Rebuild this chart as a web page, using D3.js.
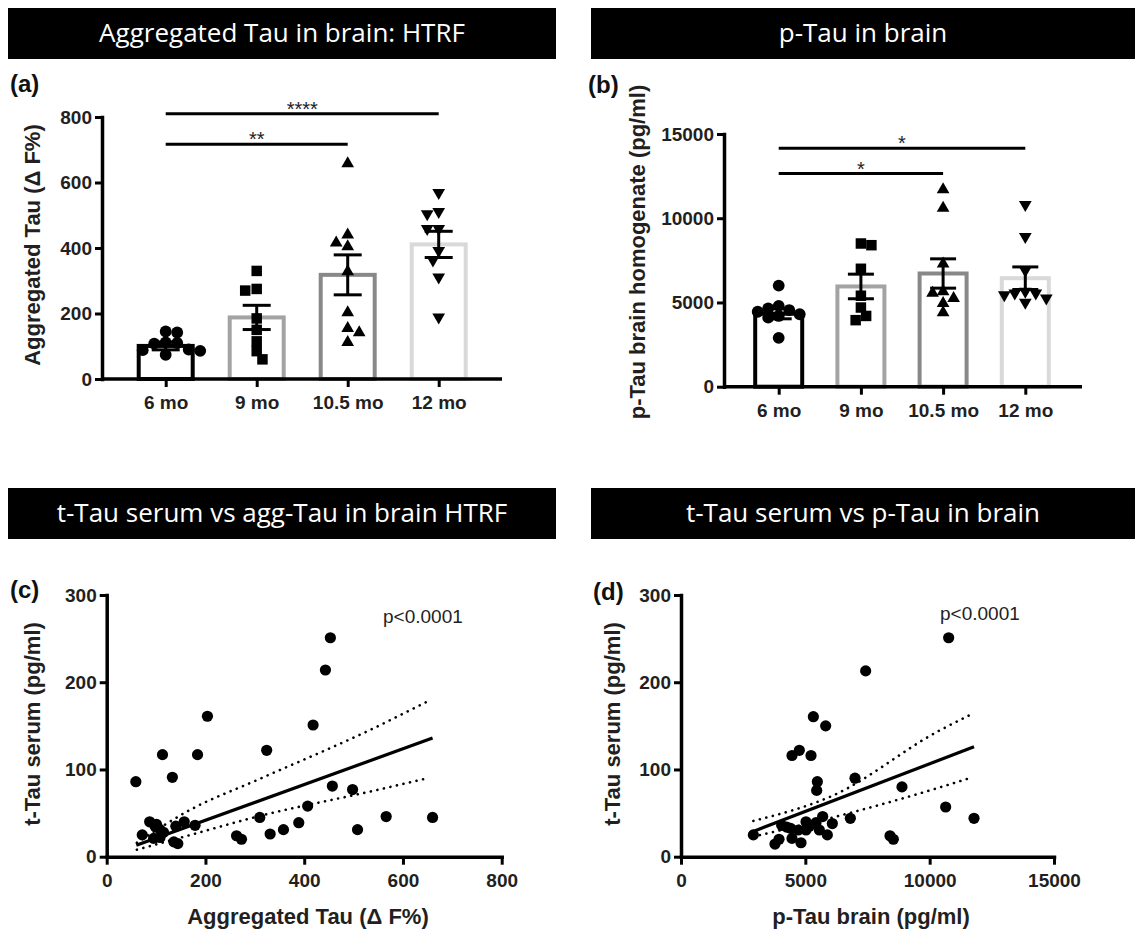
<!DOCTYPE html>
<html>
<head>
<meta charset="utf-8">
<script src="https://cdn.jsdelivr.net/npm/d3@7"></script>
<style>
  body { margin: 0; background: #fff; }
  svg text { font-family: "Liberation Sans", Arial, sans-serif; }
</style>
</head>
<body>
<svg id="fig" width="1135" height="931"></svg>
<script>
// ---- data ----
const months = ["6 mo", "9 mo", "10.5 mo", "12 mo"];

// (a) aggregated tau, HTRF
const aggTicks = [0, 200, 400, 600, 800];
const aggMean = [101, 188, 318, 411];
const aggSem = [12, 37, 61, 40];
const agg6mo = [145, 142, 112, 110, 108, 90, 88, 86, 74];
const agg9mo = [330, 275, 270, 185, 150, 115, 85, 60];
const agg105mo = [658, 440, 416, 404, 328, 203, 155, 142, 112];
const agg12mo = [569, 511, 504, 459, 459, 392, 363, 311, 189];
const aggSigFrom = [0, 0];
const aggSigTo = [2, 3];
const aggSigLevel = [717, 810];
const aggSigLabel = ["**", "****"];

// (b) p-tau in brain homogenate
const pTauTicks = [0, 5000, 10000, 15000];
const pTauMean = [4330, 5950, 6720, 6440];
const pTauSem = [300, 730, 870, 670];
const pTau6mo = [6000, 4800, 4650, 4550, 4450, 4300, 4200, 4100, 2900];
const pTau9mo = [8500, 8400, 7000, 5400, 4700, 4200, 3950];
const pTau105mo = [11700, 10600, 7300, 5650, 5550, 5250, 4950, 4400];
const pTau12mo = [10800, 8900, 6900, 5650, 5550, 5550, 5450, 5250, 5000];
const pTauSigFrom = [0, 0];
const pTauSigTo = [2, 3];
const pTauSigLevel = [12650, 14150];
const pTauSigLabel = ["*", "*"];

// (c) t-tau serum vs aggregated tau
const serumTicks = [0, 100, 200, 300];
const aggXTicks = [0, 200, 400, 600, 800];
const aggX = [59, 72, 87, 95, 98, 101, 108, 108, 113, 115, 133, 136, 140, 144, 157, 179, 184, 204, 263, 273,
              310, 324, 331, 358, 389, 407, 418, 443, 453, 457, 498, 508, 566, 660];
const serumC = [86, 25, 40, 21, 35, 37, 31, 22, 117, 28, 91, 17, 35, 15, 40, 36, 117, 161, 24, 20,
                45, 122, 26, 31, 39, 58, 151, 214, 251, 81, 77, 31, 46, 45];
const fitCX = [60, 660];
const fitCY = [13, 136];
const ciCX = [61, 170, 305, 536, 650];
const ciCUpper = [16, 54, 88, 146, 178];
const ciCLower = [8, 25, 46, 75, 90];

// (d) t-tau serum vs p-tau brain
const pBrainXTicks = [0, 5000, 10000, 15000];
const pBrainX = [2909, 3780, 3941, 4048, 4249, 4410, 4464, 4464, 4759, 4718, 4826, 5027, 5027, 5161, 5322, 5228,
                 5483, 5456, 5429, 5563, 5697, 5818, 5885, 6086, 6810, 6997, 7426, 8405, 8539, 8887, 10643, 10764, 11783];
const serumD = [25, 14.5, 20, 36, 34, 32.5, 21, 116, 122, 30.6, 16, 30.6, 40, 35, 160.5, 116,
                86, 76, 39, 30.6, 46, 150, 25, 38, 44, 90, 213, 24, 20, 80, 57, 251, 44];
const fitDX = [2909, 11783];
const fitDY = [29, 126];
const ciDX = [2909, 6100, 10354, 11595];
const ciDUpper = [41, 70, 144, 162];
const ciDLower = [23, 45, 79, 90];

// ---- drawing ----
const svg = d3.select("#fig");
const barColors = ["#000000", "#a3a3a3", "#888888", "#d9d9d9"];
const symbols = [d3.symbolCircle, d3.symbolSquare, d3.symbolTriangle, d3.symbolTriangle];
const symbolSizes = [110, 110, 70, 70];

function titleBar(x, y, w, h, text) {
    svg.append("rect").attr("x", x).attr("y", y).attr("width", w).attr("height", h).attr("fill", "#000");
    svg.append("text")
        .attr("x", x + w / 2).attr("y", y + 34)
        .attr("text-anchor", "middle")
        .attr("fill", "#fff")
        .style("font-family", '"Open Sans", sans-serif')
        .style("font-size", "26px")
        .text(text);
}

function panelLetter(x, y, txt) {
    svg.append("text").attr("x", x).attr("y", y)
        .style("font-size", "24px").style("font-weight", "bold").attr("fill", "#111")
        .text(txt);
}

function styleAxis(g) {
    g.selectAll(".domain").attr("stroke", "#000").attr("stroke-width", 3.5).attr("stroke-linecap", "square");
    g.selectAll(".tick line").attr("stroke", "#000").attr("stroke-width", 3);
    g.selectAll(".tick text").attr("fill", "#231f20").style("font-size", "19px").style("font-weight", "bold");
}

function axisTitle(x, y, txt, rotate) {
    svg.append("text")
        .attr("transform", `translate(${x},${y})` + (rotate ? " rotate(-90)" : ""))
        .attr("text-anchor", "middle")
        .attr("fill", "#231f20")
        .style("font-size", "22px").style("font-weight", "bold")
        .text(txt);
}

// column scatter: nudge overlapping points sideways (half-step slots, closest to centre first)
function swarm(values, yScale, step) {
    const placed = [];
    const cands = [0];
    for (let i = 1; i <= 8; i++) cands.push(-i * step / 2, i * step / 2);
    return values.map((v, n) => {
        const py = yScale(v);
        let off = 0;
        for (const c0 of cands) {
            const c = n % 2 ? -c0 : c0;
            const hit = placed.some(p => Math.hypot(p.dx - c, p.py - py) < step * 0.85);
            if (!hit) { off = c; break; }
        }
        placed.push({ dx: off, py: py });
        return { v: v, dx: off };
    });
}

function barPanel(p) {
    const y = d3.scaleLinear().domain([0, p.yMax]).range([p.bottom, p.top]);
    const x = d3.scalePoint().domain(months).range([p.firstX, p.lastX]);

    // bars
    svg.append("g").selectAll("rect")
        .data(p.means)
        .enter().append("rect")
        .attr("x", (d, i) => x(months[i]) - p.barW / 2)
        .attr("y", d => y(d))
        .attr("width", p.barW)
        .attr("height", d => p.bottom - y(d))
        .attr("fill", "#fff")
        .attr("stroke", (d, i) => barColors[i])
        .attr("stroke-width", 4);

    // points
    p.groups.forEach((vals, i) => {
        const pts = swarm(vals, y, p.step);
        svg.append("g").selectAll("path")
            .data(pts)
            .enter().append("path")
            .attr("d", d3.symbol().type(symbols[i]).size(symbolSizes[i]))
            .attr("transform", d => `translate(${x(months[i]) + d.dx},${y(d.v)})` + (i === 3 ? " rotate(180)" : ""))
            .attr("fill", "#000");
    });

    // error bars (SEM)
    const eb = svg.append("g").attr("stroke", "#000").attr("stroke-width", 3);
    p.means.forEach((m, i) => {
        const cx = x(months[i]);
        eb.append("line").attr("x1", cx).attr("x2", cx).attr("y1", y(m - p.sems[i])).attr("y2", y(m + p.sems[i]));
        [m - p.sems[i], m + p.sems[i]].forEach(v => {
            eb.append("line").attr("x1", cx - p.capW).attr("x2", cx + p.capW).attr("y1", y(v)).attr("y2", y(v));
        });
    });

    // significance bars
    p.sigLevel.forEach((lv, k) => {
        const x1 = x(months[p.sigFrom[k]]), x2 = x(months[p.sigTo[k]]);
        svg.append("line").attr("x1", x1).attr("x2", x2).attr("y1", y(lv)).attr("y2", y(lv))
            .attr("stroke", "#000").attr("stroke-width", 3);
        svg.append("text").attr("x", (x1 + x2) / 2).attr("y", y(lv) + 2)
            .attr("text-anchor", "middle").attr("fill", "#222")
            .style("font-size", "20px")
            .text(p.sigLabel[k]);
    });

    // axes
    const gy = svg.append("g").attr("transform", `translate(${p.left},0)`)
        .call(d3.axisLeft(y).tickValues(p.ticks).tickSize(7).tickSizeOuter(0).tickPadding(3).tickFormat(d3.format("d")));
    styleAxis(gy);

    svg.append("line").attr("x1", p.left).attr("x2", p.right).attr("y1", p.bottom).attr("y2", p.bottom)
        .attr("stroke", "#000").attr("stroke-width", 3.5);
    const gx = svg.append("g").attr("transform", `translate(0,${p.bottom})`)
        .call(d3.axisBottom(x).tickSize(8).tickSizeOuter(0).tickPadding(8.5));
    gx.select(".domain").remove();
    styleAxis(gx);
}

function scatterPanel(p) {
    const x = d3.scaleLinear().domain([0, p.xMax]).range([p.left, p.right]);
    const y = d3.scaleLinear().domain([0, 300]).range([p.bottom, p.top]);

    svg.append("g").selectAll("circle")
        .data(p.xs)
        .enter().append("circle")
        .attr("cx", d => x(d))
        .attr("cy", (d, i) => y(p.ys[i]))
        .attr("r", 5.6)
        .attr("fill", "#000");

    const line = d3.line().x(d => x(d[0])).y(d => y(d[1]));
    const ciLine = d3.line().curve(d3.curveMonotoneX).x(d => x(d[0])).y(d => y(d[1]));
    [p.ciUpper, p.ciLower].forEach(band => {
        svg.append("path")
            .datum(p.ciX.map((v, i) => [v, band[i]]))
            .attr("d", ciLine)
            .attr("fill", "none").attr("stroke", "#000")
            .attr("stroke-width", 2.6).attr("stroke-linecap", "round")
            .attr("stroke-dasharray", "0.1,6.6");
    });
    svg.append("path")
        .datum(p.fitX.map((v, i) => [v, p.fitY[i]]))
        .attr("d", line)
        .attr("fill", "none").attr("stroke", "#000").attr("stroke-width", 3.2);

    const gx = svg.append("g").attr("transform", `translate(0,${p.bottom})`)
        .call(d3.axisBottom(x).tickValues(p.xTicks).tickSize(8).tickSizeOuter(0).tickPadding(9).tickFormat(d3.format("d")));
    styleAxis(gx);
    const gy = svg.append("g").attr("transform", `translate(${p.left},0)`)
        .call(d3.axisLeft(y).tickValues(serumTicks).tickSize(7).tickSizeOuter(0).tickPadding(3));
    styleAxis(gy);

    svg.append("text").attr("x", p.pX).attr("y", p.pY)
        .attr("fill", "#222").style("font-size", "19px")
        .text("p<0.0001");
}

// title bars
titleBar(8, 8, 548, 51, "Aggregated Tau in brain: HTRF");
titleBar(591, 8, 544, 51, "p-Tau in brain");
titleBar(8, 488, 548, 51, "t-Tau serum vs agg-Tau in brain HTRF");
titleBar(591, 488, 544, 51, "t-Tau serum vs p-Tau in brain");

// (a)
panelLetter(10, 92, "(a)");
barPanel({
    left: 102, right: 502, top: 117, bottom: 379, yMax: 800, ticks: aggTicks,
    firstX: 165.7, lastX: 438.7, barW: 54, capW: 14, step: 11.5,
    means: aggMean, sems: aggSem, groups: [agg6mo, agg9mo, agg105mo, agg12mo],
    sigFrom: aggSigFrom, sigTo: aggSigTo, sigLevel: aggSigLevel, sigLabel: aggSigLabel
});
axisTitle(40, 245, "Aggregated Tau (\u0394 F%)", true);

// (b)
panelLetter(588, 93, "(b)");
barPanel({
    left: 724, right: 1082, top: 134, bottom: 386.7, yMax: 15000, ticks: pTauTicks,
    firstX: 778.7, lastX: 1025.3, barW: 47, capW: 13, step: 10.5,
    means: pTauMean, sems: pTauSem, groups: [pTau6mo, pTau9mo, pTau105mo, pTau12mo],
    sigFrom: pTauSigFrom, sigTo: pTauSigTo, sigLevel: pTauSigLevel, sigLabel: pTauSigLabel
});
axisTitle(645, 252, "p-Tau brain homogenate (pg/ml)", true);

// (c)
panelLetter(10, 598, "(c)");
scatterPanel({
    left: 106.7, right: 501.7, top: 595, bottom: 856.7, xMax: 800, xTicks: aggXTicks,
    xs: aggX, ys: serumC, fitX: fitCX, fitY: fitCY, ciX: ciCX, ciUpper: ciCUpper, ciLower: ciCLower,
    pX: 383, pY: 623
});
axisTitle(40, 724, "t-Tau serum (pg/ml)", true);
axisTitle(308, 924, "Aggregated Tau (\u0394 F%)", false);

// (d)
panelLetter(593, 600, "(d)");
scatterPanel({
    left: 681, right: 1054, top: 595, bottom: 856.7, xMax: 15000, xTicks: pBrainXTicks,
    xs: pBrainX, ys: serumD, fitX: fitDX, fitY: fitDY, ciX: ciDX, ciUpper: ciDUpper, ciLower: ciDLower,
    pX: 940, pY: 620
});
axisTitle(620, 724, "t-Tau serum (pg/ml)", true);
axisTitle(871, 924, "p-Tau brain (pg/ml)", false);
</script>
</body>
</html>
